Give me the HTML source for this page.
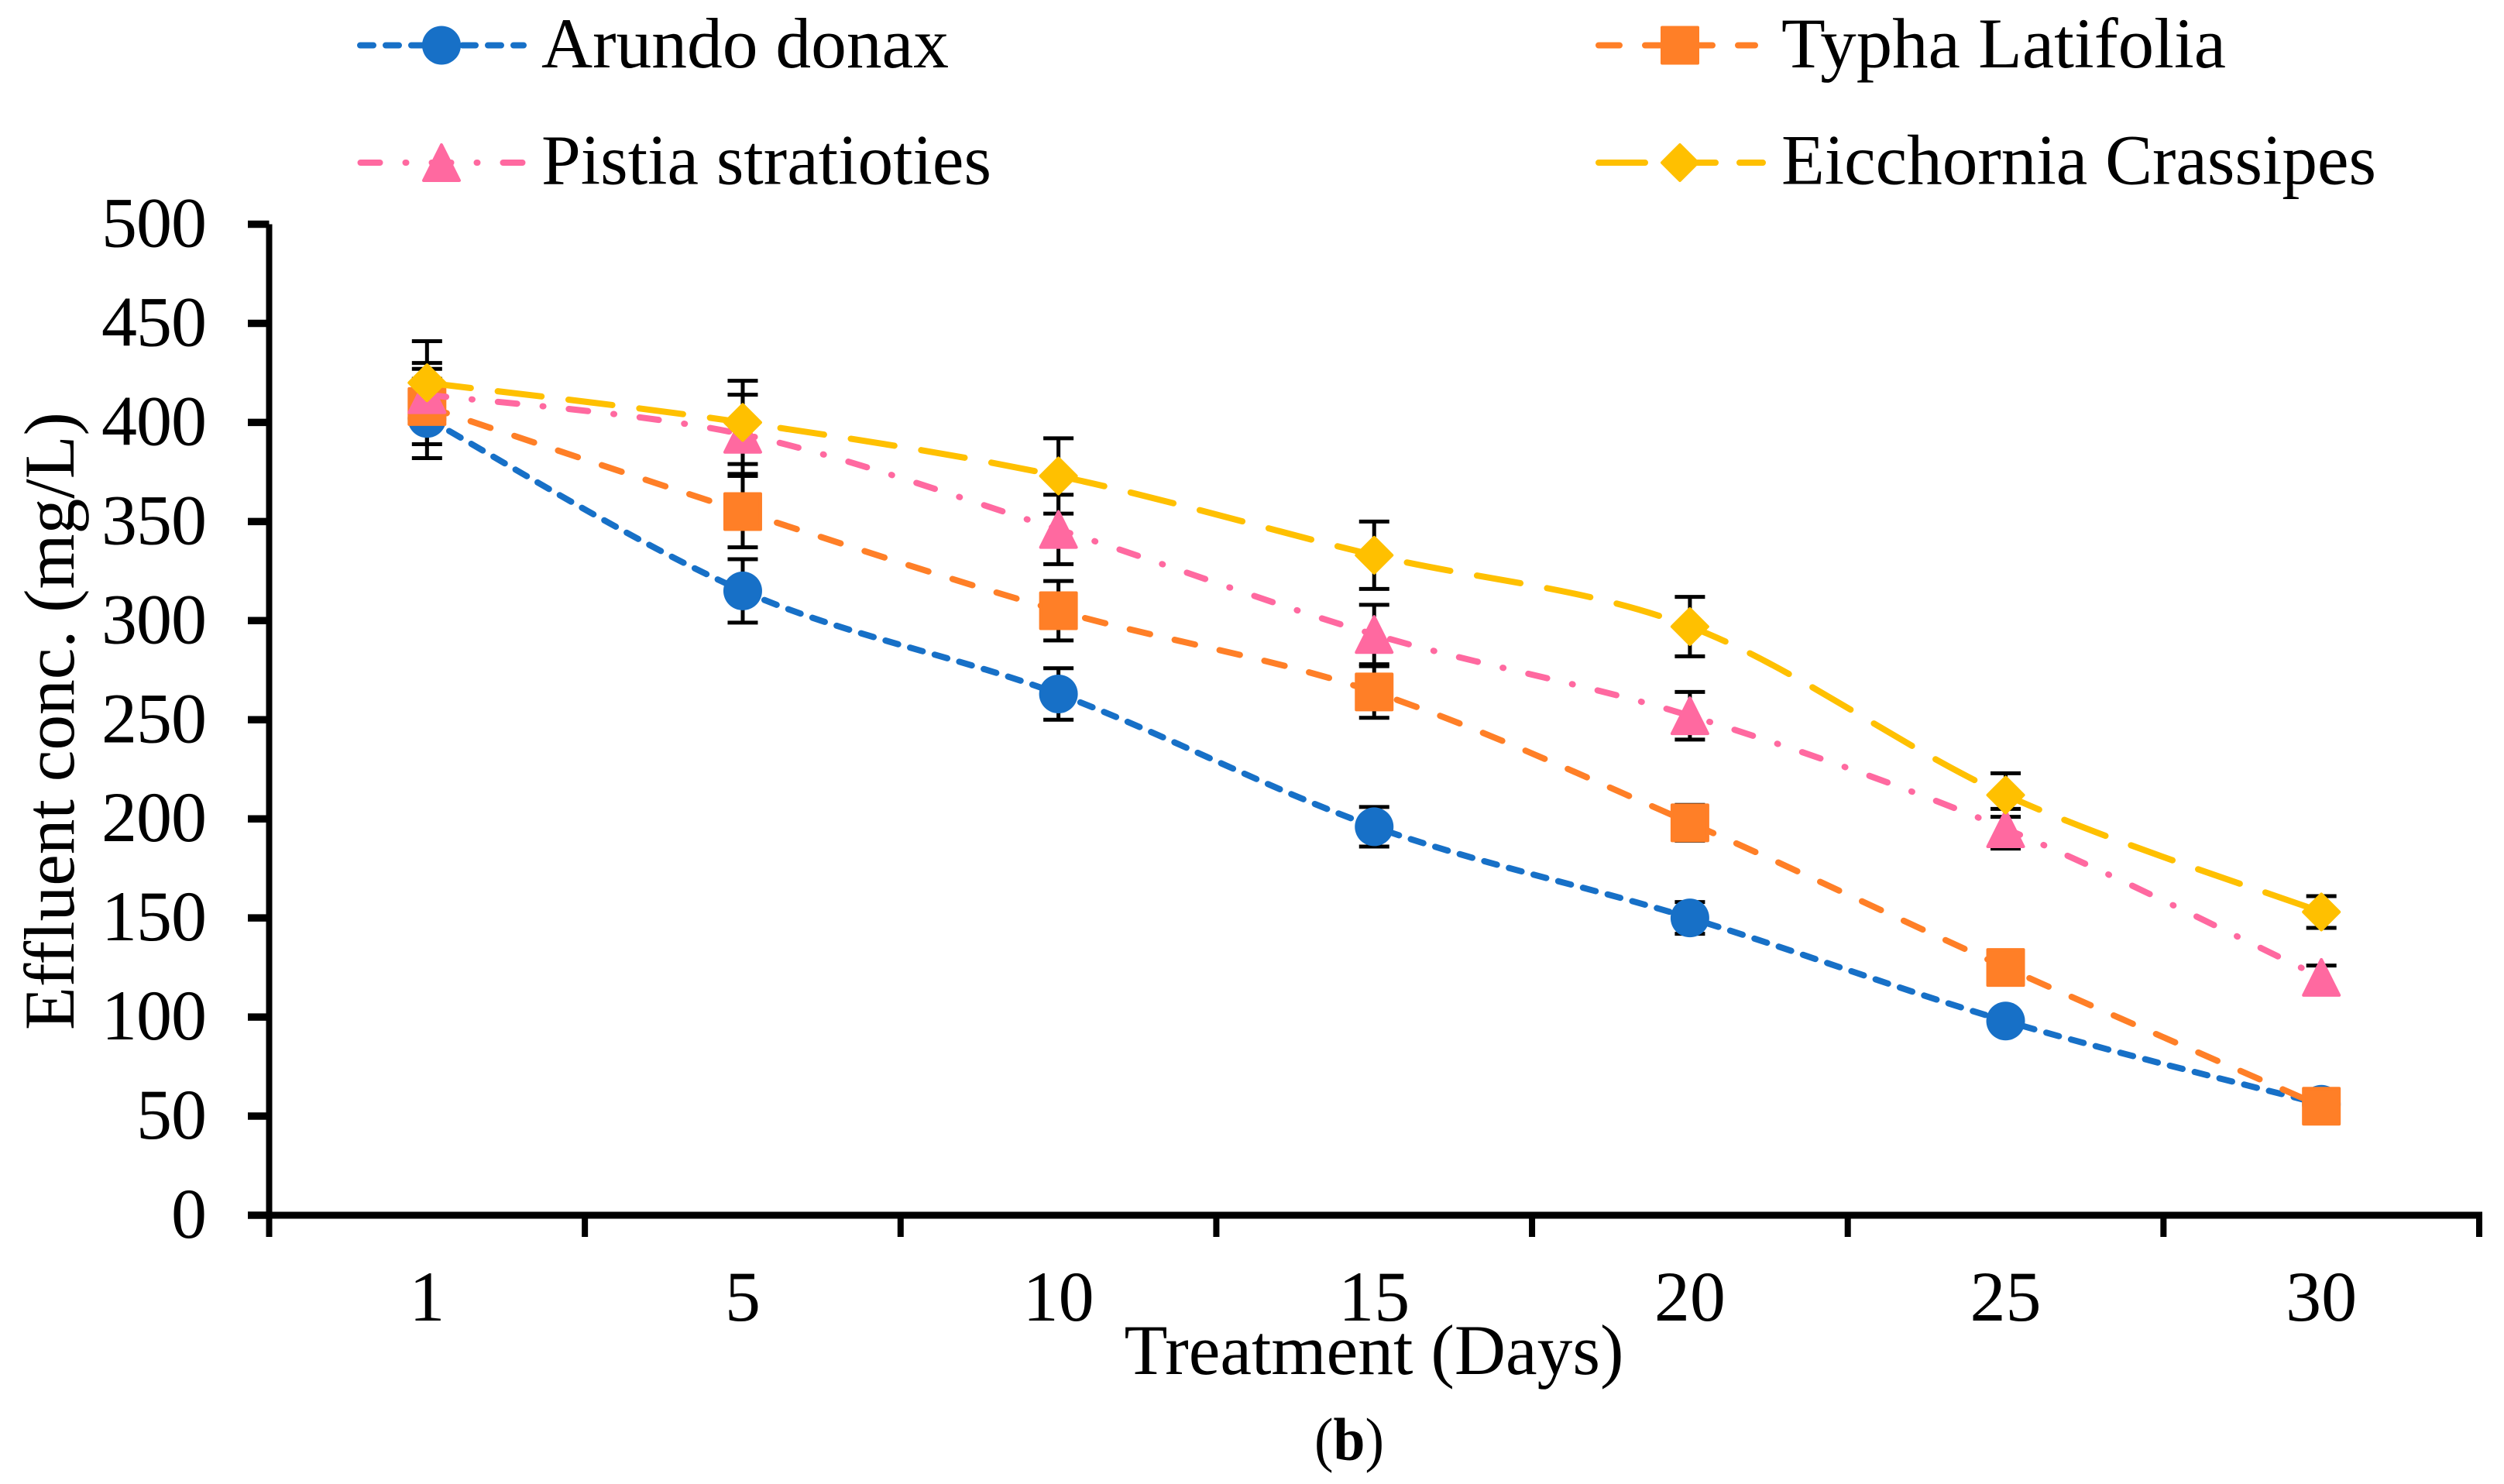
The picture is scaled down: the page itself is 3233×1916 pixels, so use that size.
<!DOCTYPE html>
<html lang="en">
<head>
<meta charset="utf-8">
<title>Effluent concentration chart</title>
<style>
html,body{margin:0;padding:0;background:#fff;width:3233px;height:1916px;overflow:hidden}
svg{display:block}
text{font-family:"Liberation Serif","Times New Roman",serif;fill:#000}
</style>
</head>
<body>
<svg id="chart" xmlns="http://www.w3.org/2000/svg" width="3233" height="1916" viewBox="0 0 3233 1916">
  <rect x="0" y="0" width="3233" height="1916" fill="#ffffff"/>
  <g id="axes"></g>
  <g id="errors"></g>
  <g id="plot"></g>

  <g>
    <g>
      <line x1="465" y1="58.5" x2="676" y2="58.5" stroke="#1770c7" stroke-width="8" stroke-linecap="round" stroke-dasharray="17 16"/>
      <circle cx="570" cy="58.5" r="25" fill="#1770c7"/>
      <text x="699" y="87" font-size="92" textLength="526" lengthAdjust="spacingAndGlyphs">Arundo donax</text>
    </g>
    <g>
      <line x1="2064" y1="58.5" x2="2266" y2="58.5" stroke="#ff7f27" stroke-width="8" stroke-linecap="round" stroke-dasharray="27 33"/>
      <rect x="2146" y="35.5" width="46" height="46" fill="#ff7f27" stroke="#ff7f27" stroke-width="4" stroke-linejoin="round"/>
      <text x="2300" y="87" font-size="92" textLength="574" lengthAdjust="spacingAndGlyphs">Typha Latifolia</text>
    </g>
    <g>
      <line x1="465.5" y1="210" x2="676" y2="210" stroke="#ff69a0" stroke-width="8" stroke-linecap="round" stroke-dasharray="25 33 1 33"/>
      <polygon points="570,187 593,233 547,233" fill="#ff69a0" stroke="#ff69a0" stroke-width="4" stroke-linejoin="round"/>
      <text x="699" y="237.5" font-size="92" textLength="581" lengthAdjust="spacingAndGlyphs">Pistia stratioties</text>
    </g>
    <g>
      <line x1="2064" y1="210" x2="2276" y2="210" stroke="#ffc000" stroke-width="8" stroke-linecap="round" stroke-dasharray="60 31"/>
      <polygon points="2169,187 2192,210 2169,233 2146,210" fill="#ffc000" stroke="#ffc000" stroke-width="4" stroke-linejoin="round"/>
      <text x="2300" y="237.5" font-size="92" textLength="768" lengthAdjust="spacingAndGlyphs">Eicchornia Crassipes</text>
    </g>
  </g>

  <text transform="translate(95 931) rotate(-90)" text-anchor="middle" font-size="92" textLength="798" lengthAdjust="spacingAndGlyphs">Effluent conc. (mg/L)</text>
  <text x="1774" y="1774" text-anchor="middle" font-size="92" textLength="645" lengthAdjust="spacingAndGlyphs">Treatment (Days)</text>
  <text x="1742" y="1885" text-anchor="middle" font-size="78" textLength="90" lengthAdjust="spacingAndGlyphs">(<tspan font-weight="bold">b</tspan>)</text>
</svg>

<script>
const categories = ['1', '5', '10', '15', '20', '25', '30'];
const yTickLabels = [0, 50, 100, 150, 200, 250, 300, 350, 400, 450, 500];

const arundoValues = [402, 315, 263, 196, 150, 98, 56];
const typhaValues = [408, 355, 305, 264, 198, 125, 55];
const pistiaValues = [414, 394, 346, 293, 252, 195, 120];
const eicchorniaValues = [420, 400, 373, 333, 297, 212, 153];

const arundoErrors = [20, 16, 13, 10, 8, 5, 3];
const typhaErrors = [19, 18, 15, 13, 9, 6, 3];
const pistiaErrors = [16, 20, 17.5, 15, 12, 10, 6];
const eicchorniaErrors = [21, 21, 19, 17, 15, 11, 8];

const SVGNS = 'http://www.w3.org/2000/svg';
const plotLeft = 347.5;
const plotRight = 3201;
const plotBottom = 1569;
const plotTop = 289.5;
const yMax = 500;

function xScale(i) {
  return plotLeft + (i + 0.5) * (plotRight - plotLeft) / categories.length;
}
function yScale(v) {
  return plotBottom - v / yMax * (plotBottom - plotTop);
}
function make(parent, tag, attrs) {
  const el = document.createElementNS(SVGNS, tag);
  for (const k in attrs) el.setAttribute(k, attrs[k]);
  parent.appendChild(el);
  return el;
}

const axes = document.getElementById('axes');
const errors = document.getElementById('errors');
const plot = document.getElementById('plot');

const yAxisLine = make(axes, 'line', {x1: plotLeft, y1: plotTop, x2: plotLeft, y2: 1597, stroke: '#000', 'stroke-width': 8});



const xAxisLine = make(axes, 'line', {x1: plotLeft, y1: plotBottom, x2: plotRight + 4, y2: plotBottom, stroke: '#000', 'stroke-width': 9});



yTickLabels.forEach(function (v) {
  const y = yScale(v);
  const tick = make(axes, 'line', {x1: 320, y1: y, x2: plotLeft, y2: y, stroke: '#000', 'stroke-width': 9.5});
  
  
  const label = make(axes, 'text', {x: 266, y: y + 29, 'text-anchor': 'end', 'font-size': 92, 'letter-spacing': '-1'});
  
  
  label.textContent = String(v);
});

for (let i = 1; i <= categories.length; i++) {
  const x = plotLeft + i * (plotRight - plotLeft) / categories.length;
  const tick = make(axes, 'line', {x1: x, y1: plotBottom, x2: x, y2: 1597, stroke: '#000', 'stroke-width': 8});
  
  
}

categories.forEach(function (c, i) {
  const label = make(axes, 'text', {x: xScale(i), y: 1705, 'text-anchor': 'middle', 'font-size': 92});
  
  
  label.textContent = c;
});

function drawErrors(key, values, errs) {
  values.forEach(function (v, i) {
    const x = xScale(i);
    const hi = yScale(v + errs[i]);
    const lo = yScale(v - errs[i]);
    const stem = make(errors, 'line', {x1: x, y1: hi, x2: x, y2: lo, stroke: '#000', 'stroke-width': 5});
    
    
    const capHi = make(errors, 'line', {x1: x - 19.5, y1: hi, x2: x + 19.5, y2: hi, stroke: '#000', 'stroke-width': 5});
    
    
    const capLo = make(errors, 'line', {x1: x - 19.5, y1: lo, x2: x + 19.5, y2: lo, stroke: '#000', 'stroke-width': 5});
    
    
  });
}

function smoothPath(values) {
  const px = values.map(function (v, i) { return xScale(i); });
  const py = values.map(function (v) { return yScale(v); });
  const n = values.length;
  let d = 'M' + px[0] + ' ' + py[0];
  for (let i = 0; i < n - 1; i++) {
    const a = Math.max(i - 1, 0);
    const b = Math.min(i + 2, n - 1);
    const c1x = px[i] + (px[i + 1] - px[a]) / 6;
    const c1y = py[i] + (py[i + 1] - py[a]) / 6;
    const c2x = px[i + 1] - (px[b] - px[i]) / 6;
    const c2y = py[i + 1] - (py[b] - py[i]) / 6;
    d += ' C' + c1x + ' ' + c1y + ' ' + c2x + ' ' + c2y + ' ' + px[i + 1] + ' ' + py[i + 1];
  }
  return d;
}

function drawLine(key, values, color, dash) {
  const line = make(plot, 'path', {d: smoothPath(values), fill: 'none', stroke: color, 'stroke-width': 8, 'stroke-linecap': 'round', 'stroke-linejoin': 'round', 'stroke-dasharray': dash});
  
  
}

function drawMarkers(key, values, color, shape) {
  const r = 23;
  values.forEach(function (v, i) {
    const x = xScale(i);
    const y = yScale(v);
    let m;
    if (shape === 'circle') {
      m = make(plot, 'circle', {cx: x, cy: y, r: 25, fill: color});
    } else if (shape === 'square') {
      m = make(plot, 'rect', {x: x - r, y: y - r, width: 2 * r, height: 2 * r, fill: color, stroke: color, 'stroke-width': 4, 'stroke-linejoin': 'round'});
    } else if (shape === 'triangle') {
      m = make(plot, 'polygon', {points: x + ',' + (y - r) + ' ' + (x + r) + ',' + (y + r) + ' ' + (x - r) + ',' + (y + r), fill: color, stroke: color, 'stroke-width': 4, 'stroke-linejoin': 'round'});
    } else {
      m = make(plot, 'polygon', {points: x + ',' + (y - r) + ' ' + (x + r) + ',' + y + ' ' + x + ',' + (y + r) + ' ' + (x - r) + ',' + y, fill: color, stroke: color, 'stroke-width': 4, 'stroke-linejoin': 'round'});
    }
    
    
  });
}

drawErrors('arundo', arundoValues, arundoErrors);
drawErrors('typha', typhaValues, typhaErrors);
drawErrors('pistia', pistiaValues, pistiaErrors);
drawErrors('eicchornia', eicchorniaValues, eicchorniaErrors);

drawLine('arundo', arundoValues, '#1770c7', '17 16');
drawMarkers('arundo', arundoValues, '#1770c7', 'circle');
drawLine('typha', typhaValues, '#ff7f27', '27 32.5');
drawMarkers('typha', typhaValues, '#ff7f27', 'square');
drawLine('pistia', pistiaValues, '#ff69a0', '25 33 1 33');
drawMarkers('pistia', pistiaValues, '#ff69a0', 'triangle');
drawLine('eicchornia', eicchorniaValues, '#ffc000', '57 35');
drawMarkers('eicchornia', eicchorniaValues, '#ffc000', 'diamond');
</script>
</body>
</html>
